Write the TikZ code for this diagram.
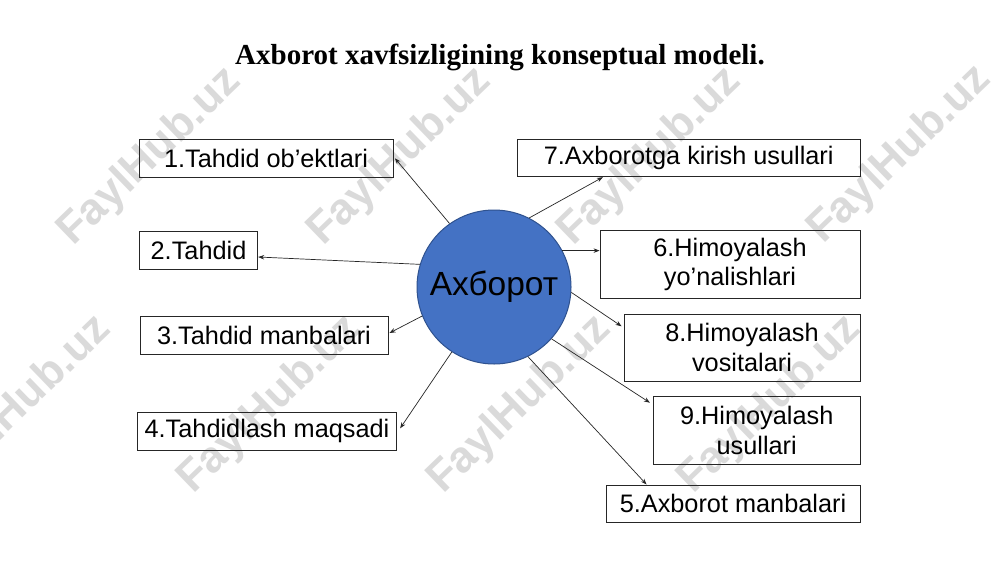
\documentclass[tikz,border=0pt]{standalone}
\usepackage{fontspec}
\setmainfont{Liberation Sans}
\newfontfamily\titlefont{Liberation Serif}
\usetikzlibrary{arrows.meta}
\definecolor{circfill}{HTML}{4472C4}
\definecolor{circline}{HTML}{2F528F}
\definecolor{wm}{HTML}{DADADA}
\begin{document}
\begin{tikzpicture}[x=1pt,y=-1pt,
 lbox/.style={draw=black!85,line width=0.9pt,inner sep=0pt,align=center,font=\fontsize{25.3}{29.5}\selectfont},
 conn/.style={draw=black!85,line width=0.7pt,-{Stealth[length=6pt,width=4.5pt]}},
 wmark/.style={text=wm,font=\fontsize{44}{44}\selectfont\bfseries,rotate=44,inner sep=0pt}]
\useasboundingbox[fill=white] (0,0) rectangle (1000,562);
% watermarks
\foreach \i/\wx/\wy in {1/150/157,2/400/157,3/650/157,4/900/155,5/20/405,6/270/405,7/520/405,8/770/405}
  \node[wmark] (wm\i) at (\wx,\wy) {FaylHub.uz};
% title
\node[font=\titlefont\fontsize{29}{32}\selectfont\bfseries] (title) at (500,57) {Axborot xavfsizligining konseptual modeli.};
% circle
\node[circle,fill=circfill,draw=circline,line width=1pt,minimum size=154pt,inner sep=0pt,font=\fontsize{33.5}{36}\selectfont] (c) at (494,287) {Ахборот};
% boxes
\node[lbox,minimum width=254pt,minimum height=38pt] (b1) at (266,158.3) {1.Tahdid ob’ektlari};
\node[lbox,minimum width=118.5pt,minimum height=37.5pt] (b2) at (198.5,250.5) {2.Tahdid};
\node[lbox,minimum width=248pt,minimum height=38pt] (b3) at (264,335) {3.Tahdid manbalari};
\node[lbox,minimum width=259.4pt,minimum height=37.3pt] (b4) at (267,431.3) {4.Tahdidlash maqsadi};
\node[lbox,minimum width=342.7pt,minimum height=37.4pt] (b7) at (688.7,158) {7.Axborotga kirish usullari};
\node[lbox,minimum width=260pt,minimum height=67.6pt] (b6) at (730,264.5) {6.Himoyalash\\yo’nalishlari};
\node[lbox,minimum width=236pt,minimum height=67pt] (b8) at (742,347.5) {8.Himoyalash\\vositalari};
\node[lbox,minimum width=206.7pt,minimum height=67.3pt] (b9) at (756.7,430.3) {9.Himoyalash\\usullari};
\node[lbox,minimum width=254pt,minimum height=37.7pt] (b5) at (733,503.8) {5.Axborot manbalari};
% connectors
\draw[conn] (c.125) -- ([xshift=1.5pt]b1.east);
\draw[conn] (c.163) -- ([yshift=-6.5pt]b2.east);
\draw[conn] (c.202) -- ([xshift=1pt,yshift=2pt]b3.east);
\draw[conn] (c.237) -- ([xshift=3pt,yshift=3pt]b4.east);
\draw[conn] (c.63) -- ([xshift=86pt]b7.south west);
\draw[conn] (c.28) -- (b6.west |- c.28);
\draw[conn] (c.-4.5) -- ([xshift=-2pt,yshift=-12.7pt]b8.north west);
\draw[conn] (c.-42.5) -- ([xshift=-3pt,yshift=-6.5pt]b9.north west);
\draw[conn] (c.-64) -- ([xshift=41pt]b5.north west);
\end{tikzpicture}
\end{document}
